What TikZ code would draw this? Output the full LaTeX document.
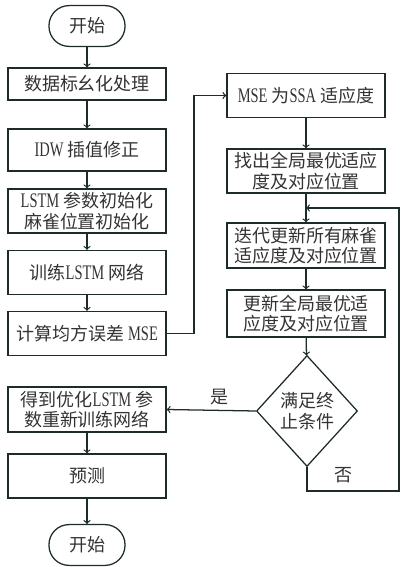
\documentclass[tikz,border=0pt]{standalone}
\usepackage{fontspec}
\setmainfont{Noto Sans CJK SC}
\newfontfamily\lat[Scale=1.15,FakeStretch=0.7]{Liberation Serif}
\usetikzlibrary{shapes.geometric,calc}
\definecolor{lineclr}{HTML}{1E2B2B}
\definecolor{textclr}{HTML}{333333}
\tikzset{
    proc/.style={draw=lineclr, line width=0.9pt, text=textclr, minimum width=3.95cm, minimum height=1.1cm, align=center, inner sep=1pt},
    term/.style={draw=lineclr, line width=0.9pt, text=textclr, rounded corners=0.5cm, minimum width=1.9cm, minimum height=1.02cm},
    dec/.style={draw=lineclr, line width=0.9pt, text=textclr, diamond, minimum width=2.525cm, minimum height=2.775cm, inner sep=0pt, align=center},
    link/.style={draw=lineclr, line width=0.9pt, ->, >=to}
}
\begin{document}
\begin{tikzpicture}[x=0.025cm, y=-0.025cm, font=\fontsize{12.8}{14.5}\selectfont]
        \useasboundingbox (0,0) rectangle (401,567);
        \node [term] (start) at (87,26) {开始};
        \node [proc, minimum height=0.8cm] (n1) at (87,84) {数据标幺化处理};
        \node [proc, minimum height=1.05cm] (n2) at (87,150) {{\lat IDW} 插值修正};
        \node [proc] (n3) at (87,211) {{\lat LSTM} 参数初始化\\麻雀位置初始化};
        \node [proc] (n4) at (87,272.5) {训练{\lat LSTM} 网络};
        \node [proc] (n5) at (87,333.5) {计算均方误差 {\lat MSE}};
        \node [proc, minimum height=1.125cm] (n6) at (87,409.5) {得到优化{\lat LSTM} 参\\数重新训练网络};
        \node [proc] (n7) at (87,476) {预测};
        \node [term] (stop) at (87,545) {开始};
        \node [proc] (m1) at (306,95.5) {{\lat MSE} 为{\lat SSA} 适应度};
        \node [proc] (m2) at (306,171) {找出全局最优适应\\度及对应位置};
        \node [proc, minimum height=1.125cm] (m3) at (306,245.5) {迭代更新所有麻雀\\适应度及对应位置};
        \node [proc, minimum height=1.17cm] (m4) at (306,313.5) {更新全局最优适\\应度及对应位置};
        \node [dec] (cond) at (307,411) {满足终\\止条件};
        \coordinate (up) at (194,333.5);
        \coordinate (back) at ($(m2.south)!0.5!(m3.north)$);
        \coordinate (rb) at (399,491);
        \draw [link] (start) -- (n1);
        \draw [link] (n1) -- (n2);
        \draw [link] (n2) -- (n3);
        \draw [link] (n3) -- (n4);
        \draw [link] (n4) -- (n5);
        \draw [link] (n5.east) -- (up) |- (m1.west);
        \draw [link] (m1) -- (m2);
        \draw [link] (m2) -- (m3);
        \draw [link] (m3) -- (m4);
        \draw [link] (m4) -- (cond);
        \draw [link] (cond.west) -- (n6.east) node [midway, above, text=textclr, xshift=6pt] {是};
        \draw [link] (cond.south) |- (rb) node [pos=0.7, above, text=textclr, yshift=2pt] {否} |- (back);
        \draw [link] (n6) -- (n7);
        \draw [link] (n7) -- (stop);
    \end{tikzpicture}
\end{document}
